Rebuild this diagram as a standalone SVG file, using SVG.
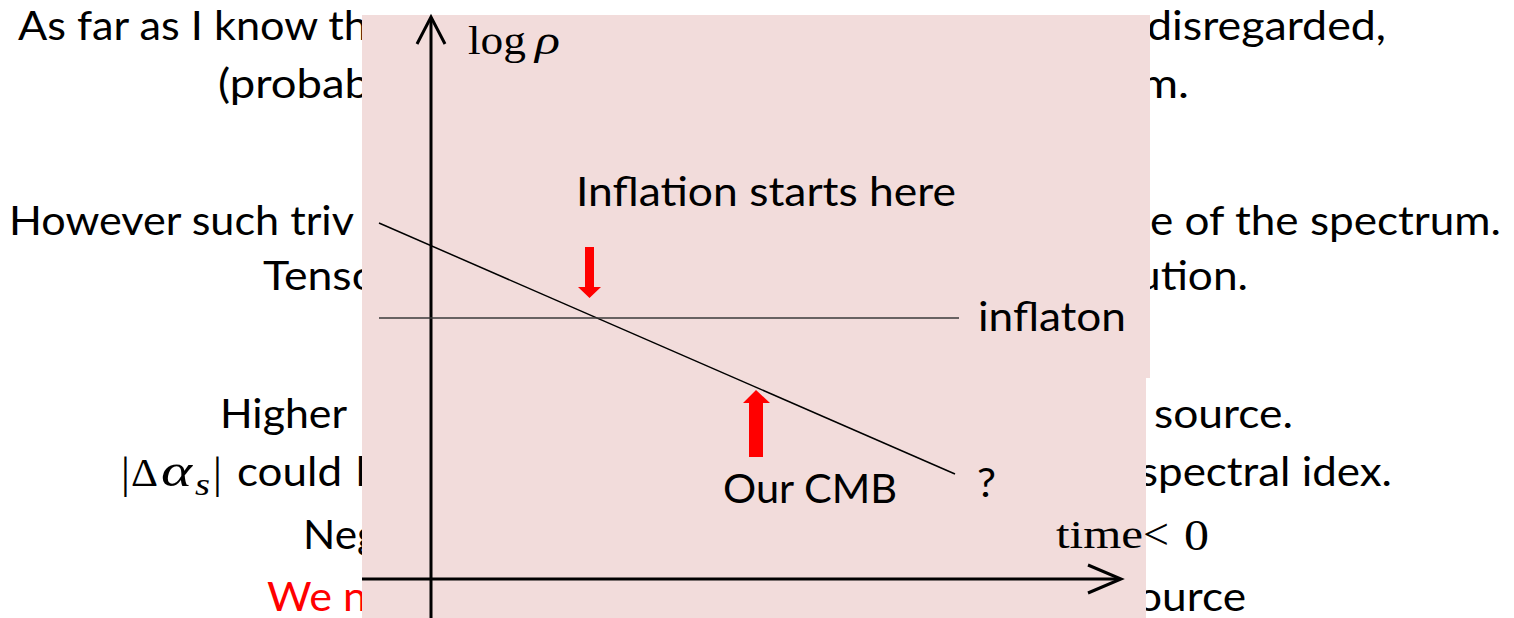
<svg xmlns="http://www.w3.org/2000/svg" width="1514" height="618" viewBox="0 0 1514 618">
<style>
.t{font-family:Lato,"Liberation Sans",sans-serif;font-size:40px;fill:#000}
.r{fill:#FF0000}
.m{font-family:"Liberation Serif","DejaVu Serif",serif;fill:#000}
.ax{stroke:#000;stroke-width:3;fill:none}
.thin{stroke:#000;stroke-width:1.5;fill:none}
.arr{fill:#FF0000}
</style>
<rect width="1514" height="618" fill="#fff"/>
<g id="slide-text">
<text class="t" x="18" y="40" textLength="350" lengthAdjust="spacingAndGlyphs">As far as I know th</text>
<text class="t" x="1147" y="40" textLength="239" lengthAdjust="spacingAndGlyphs">disregarded,</text>
<text class="t" x="218" y="98" textLength="152" lengthAdjust="spacingAndGlyphs">(probab</text>
<text class="t" x="1140" y="98" textLength="49" lengthAdjust="spacingAndGlyphs">m.</text>
<text class="t" x="9" y="235" textLength="345" lengthAdjust="spacingAndGlyphs">However such triv</text>
<text class="t" x="1150" y="235" textLength="351" lengthAdjust="spacingAndGlyphs">e of the spectrum.</text>
<text class="t" x="263" y="290" textLength="114" lengthAdjust="spacingAndGlyphs">Tenso</text>
<text class="t" x="1136" y="290" textLength="112" lengthAdjust="spacingAndGlyphs">ution.</text>
<text class="t" x="220" y="428" textLength="127" lengthAdjust="spacingAndGlyphs">Higher</text>
<text class="t" x="1154" y="428" textLength="139" lengthAdjust="spacingAndGlyphs">source.</text>
<text class="m" x="121" y="488" font-size="44">|</text>
<text class="m" x="131" y="486" font-size="40" textLength="27" lengthAdjust="spacingAndGlyphs">Δ</text>
<text class="m" x="161" y="486" font-size="46" font-style="italic" textLength="31" lengthAdjust="spacingAndGlyphs">α</text>
<text class="m" x="195" y="495" font-size="32" font-style="italic" textLength="15" lengthAdjust="spacingAndGlyphs">s</text>
<text class="m" x="213" y="488" font-size="44">|</text>
<text class="t" x="237" y="486" textLength="105" lengthAdjust="spacingAndGlyphs">could</text>
<text class="t" x="356" y="486">l</text>
<text class="t" x="1139" y="486" textLength="253" lengthAdjust="spacingAndGlyphs">spectral idex.</text>
<text class="t" x="303" y="549" textLength="76" lengthAdjust="spacingAndGlyphs">Neg</text>
<text class="t r" x="267" y="611" textLength="100" lengthAdjust="spacingAndGlyphs">We n</text>
<text class="t" x="1137" y="611" textLength="109" lengthAdjust="spacingAndGlyphs">ource</text>
</g>
<path id="panel" d="M362,15 H1150 V378 H1146 V618 H362 Z" fill="#F2DCDB"/>
<g id="less-than">
<text class="m" x="1143" y="549" font-size="44" textLength="26" lengthAdjust="spacingAndGlyphs">&lt;</text>
<text class="m" x="1184" y="550" font-size="44" textLength="25" lengthAdjust="spacingAndGlyphs">0</text>
</g>
<g id="connectors">
<line class="ax" x1="431" y1="618" x2="431" y2="18"/>
<polyline class="ax" points="417,44 431,17 445,44"/>
<line class="ax" x1="362" y1="579" x2="1120" y2="579"/>
<polyline class="ax" points="1088,565 1121,579 1088,593"/>
<line class="thin" x1="379" y1="223" x2="955" y2="474"/>
<line x1="379" y1="318" x2="959" y2="318" stroke="#3a3a3a" stroke-width="1.5"/>
<polygon class="arr" points="585,247 594,247 594,287 601,287 589.5,298 578,287 585,287"/>
<polygon class="arr" points="749,457 763,457 763,403 770,403 756,390 743,403 749,403"/>
</g>
<g id="axis-y-label">
<text class="m" x="468" y="54" font-size="40" textLength="58" lengthAdjust="spacingAndGlyphs">log</text>
<text class="m" x="535" y="54" font-size="40" font-style="italic" textLength="25" lengthAdjust="spacingAndGlyphs">ρ</text>
</g>
<g id="axis-x-label">
<text class="m" x="1056" y="548" font-size="40" textLength="87" lengthAdjust="spacingAndGlyphs">time</text>
</g>
<g id="inflation-starts">
<text class="t" x="576" y="206" textLength="380" lengthAdjust="spacingAndGlyphs">Inflation starts here</text>
</g>
<g id="inflaton">
<text class="t" x="978" y="331" textLength="148" lengthAdjust="spacingAndGlyphs">inflaton</text>
</g>
<g id="our-cmb">
<text class="t" x="723" y="503" textLength="174" lengthAdjust="spacingAndGlyphs">Our CMB</text>
</g>
<g id="question">
<text class="t" x="977" y="497" font-size="42" textLength="19" lengthAdjust="spacingAndGlyphs">?</text>
</g>
</svg>
